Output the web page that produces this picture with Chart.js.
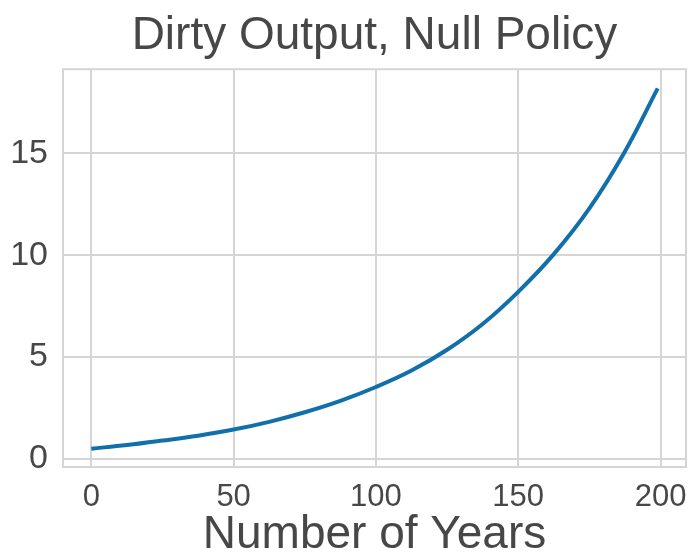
<!DOCTYPE html>
<html>
<head>
<meta charset="utf-8">
<script src="https://cdn.jsdelivr.net/npm/chart.js@4"></script>
<style>
  html, body { margin: 0; padding: 0; background: #fff; }
  canvas { display: block; }
</style>
</head>
<body>
<canvas id="myChart" width="689" height="557"></canvas>
<script>
// values
const years = [0, 12.5, 25, 37.5, 50, 62.5, 75, 87.5, 100, 112.5, 125, 137.5, 150, 162.5, 175, 187.5, 199];
const dirtyOutput = [0.49, 0.67, 0.89, 1.13, 1.43, 1.81, 2.28, 2.84, 3.52, 4.33, 5.35, 6.62, 8.2, 10.05, 12.3, 15.1, 18.2];
const xTicks = [0, 50, 100, 150, 200];
const yTicks = [0, 5, 10, 15];

const FONT = '"Liberation Sans", Arial, sans-serif';
const TEXT = '#474747';
const GRID = '#d5d5d5';

// frame round the plot area, like the seaborn whitegrid spines
const framePlugin = {
    id: 'frame',
    beforeDatasetsDraw(chart) {
        const a = chart.chartArea;
        const ctx = chart.ctx;
        ctx.save();
        ctx.strokeStyle = GRID;
        ctx.lineWidth = 2;
        ctx.strokeRect(a.left, a.top, a.right - a.left, a.bottom - a.top);
        ctx.restore();
    }
};

let points = years.map(function(y, i) {
    return {x: y, y: dirtyOutput[i]};
});

let config = {
    type: 'line',
    data: {
        datasets: [{
            data: points,
            borderColor: '#1170aa',
            borderWidth: 4,
            pointRadius: 0,
            fill: false,
            tension: 0.4,
        }]
    },
    options: {
        responsive: false,
        animation: false,
        devicePixelRatio: 1,
        layout: {padding: {top: 0, right: 3, bottom: 0, left: 0}},
        plugins: {
            legend: {display: false},
            tooltip: {enabled: false},
            title: {
                display: true,
                text: 'Dirty Output, Null Policy',
                color: TEXT,
                fullSize: false,
                font: {family: FONT, size: 46, weight: 'normal', lineHeight: 1.2},
                padding: {top: 9, bottom: 5},
            },
        },
        scales: {
            x: {
                type: 'linear',
                min: -9.95,
                max: 208.95,
                afterBuildTicks: function(scale) {
                    scale.ticks = xTicks.map(function(v) { return {value: v}; });
                },
                afterFit: function(scale) {
                    scale.height = 90;
                    scale.paddingLeft = 0;
                    scale.paddingRight = 0;
                },
                grid: {color: GRID, lineWidth: 2, drawTicks: false},
                border: {display: false},
                ticks: {color: TEXT, padding: 12, font: {family: FONT, size: 31}},
                title: {
                    display: true,
                    text: 'Number of Years',
                    color: TEXT,
                    font: {family: FONT, size: 46, lineHeight: 0.9},
                    padding: {top: 0, bottom: 1},
                },
            },
            y: {
                type: 'linear',
                min: -0.41,
                max: 19.14,
                afterBuildTicks: function(scale) {
                    scale.ticks = yTicks.map(function(v) { return {value: v}; });
                },
                afterFit: function(scale) {
                    scale.width = 63;
                    scale.paddingTop = 0;
                    scale.paddingBottom = 0;
                },
                grid: {color: GRID, lineWidth: 2, drawTicks: false},
                border: {display: false},
                ticks: {color: TEXT, padding: 15, font: {family: FONT, size: 34}},
            },
        },
    },
    plugins: [framePlugin],
};

let myChart = new Chart(document.getElementById('myChart'), config);
</script>
</body>
</html>
